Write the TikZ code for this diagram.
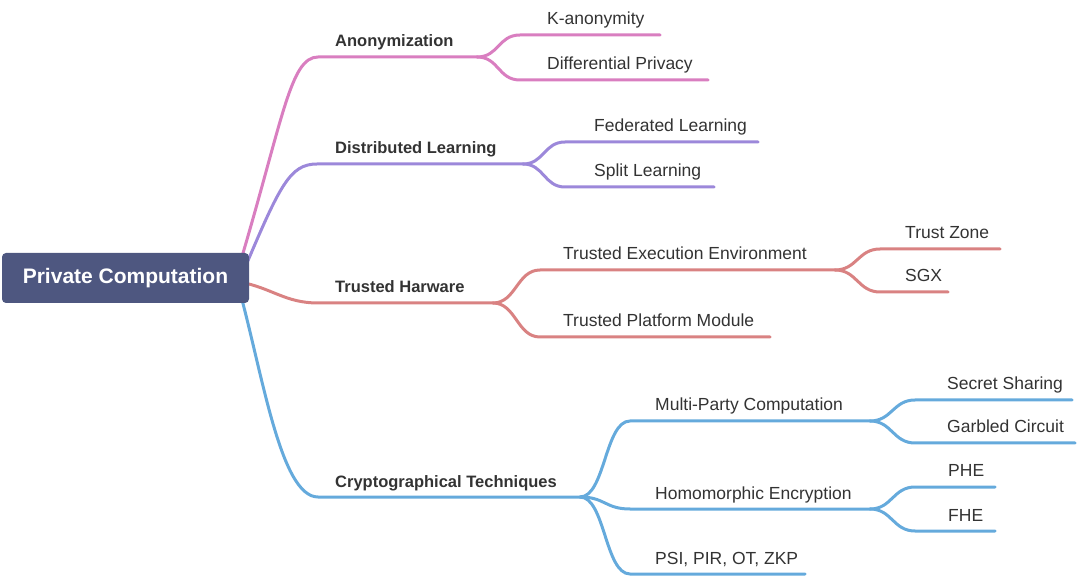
\documentclass[tikz,border=0pt]{standalone}
\usepackage{fontspec}
\setmainfont{Liberation Sans}
\definecolor{pinkc}{HTML}{D97EC0}
\definecolor{purpc}{HTML}{9C88DA}
\definecolor{redc}{HTML}{D98282}
\definecolor{bluec}{HTML}{65AADC}
\definecolor{rootc}{HTML}{4E5780}
\definecolor{txt}{HTML}{333333}
\begin{document}
\begin{tikzpicture}[x=1pt,y=-1pt,
  br/.style={line width=3pt, line cap=round},
  lone/.style={anchor=base west, inner sep=0pt, font=\fontsize{16.5}{18}\selectfont\bfseries, text=txt},
  ltwo/.style={anchor=base west, inner sep=0pt, font=\fontsize{17.5}{19}\selectfont, text=txt}]
\useasboundingbox (0,0) rectangle (1080,577);

% ---------- coordinates ----------
\coordinate (rP) at (238,270);
\coordinate (rU) at (244,270);
\coordinate (rR) at (240,282);
\coordinate (rB) at (238,285);
% level 1
\coordinate (anS) at (318,57);  \coordinate (anF) at (477,57);
\coordinate (dlS) at (317,164); \coordinate (dlF) at (523,164);
\coordinate (thS) at (318,303); \coordinate (thF) at (493,303);
\coordinate (ctS) at (318,497); \coordinate (ctF) at (580,497);
% level 2
\coordinate (kaS) at (520,35);  \coordinate (kaE) at (660,35);
\coordinate (dpS) at (520,80);  \coordinate (dpE) at (708,80);
\coordinate (flS) at (565,142); \coordinate (flE) at (758,142);
\coordinate (slS) at (565,187); \coordinate (slE) at (714,187);
\coordinate (teS) at (540,270); \coordinate (teF) at (835,270);
\coordinate (tpS) at (540,337); \coordinate (tpE) at (770,337);
\coordinate (mpS) at (630,421); \coordinate (mpF) at (870,421);
\coordinate (heS) at (630,509); \coordinate (heF) at (870,509);
\coordinate (psS) at (630,574); \coordinate (psE) at (805,574);
% level 3
\coordinate (tzS) at (880,249); \coordinate (tzE) at (1000,249);
\coordinate (sgS) at (880,292); \coordinate (sgE) at (948,292);
\coordinate (ssS) at (915,400); \coordinate (ssE) at (1072,400);
\coordinate (gcS) at (915,443); \coordinate (gcE) at (1075,443);
\coordinate (phS) at (915,487); \coordinate (phE) at (995,487);
\coordinate (fhS) at (915,531); \coordinate (fhE) at (995,531);

% ---------- Anonymization ----------
\begin{scope}[br, draw=pinkc]
\draw (rP) .. controls (283,120) and (290,57) .. (anS) -- (anF);
\draw (anF) .. controls +(22,0) and +(-22,0) .. (kaS) -- (kaE);
\draw (anF) .. controls +(22,0) and +(-22,0) .. (dpS) -- (dpE);
\end{scope}
% ---------- Distributed Learning ----------
\begin{scope}[br, draw=purpc]
\draw (rU) .. controls (280,185) and (290,164) .. (dlS) -- (dlF);
\draw (dlF) .. controls +(21,0) and +(-21,0) .. (flS) -- (flE);
\draw (dlF) .. controls +(21,0) and +(-21,0) .. (slS) -- (slE);
\end{scope}
% ---------- Trusted Harware ----------
\begin{scope}[br, draw=redc]
\draw (rR) .. controls (272,288) and (285,303) .. (thS) -- (thF);
\draw (thF) .. controls +(23,0) and +(-23,0) .. (teS) -- (teF);
\draw (thF) .. controls +(23,0) and +(-23,0) .. (tpS) -- (tpE);
\draw (teF) .. controls +(22,0) and +(-22,0) .. (tzS) -- (tzE);
\draw (teF) .. controls +(22,0) and +(-22,0) .. (sgS) -- (sgE);
\end{scope}
% ---------- Cryptographical Techniques ----------
\begin{scope}[br, draw=bluec]
\draw (rB) .. controls (262,370) and (280,497) .. (ctS) -- (ctF);
\draw (ctF) .. controls +(25,0) and +(-25,0) .. (mpS) -- (mpF);
\draw (ctF) .. controls +(25,0) and +(-25,0) .. (heS) -- (heF);
\draw (ctF) .. controls +(25,0) and +(-25,0) .. (psS) -- (psE);
\draw (mpF) .. controls +(22,0) and +(-22,0) .. (ssS) -- (ssE);
\draw (mpF) .. controls +(22,0) and +(-22,0) .. (gcS) -- (gcE);
\draw (heF) .. controls +(22,0) and +(-22,0) .. (phS) -- (phE);
\draw (heF) .. controls +(22,0) and +(-22,0) .. (fhS) -- (fhE);
\end{scope}

% ---------- root ----------
\node[fill=rootc, rounded corners=4pt, minimum width=247pt, minimum height=50pt,
      inner sep=0pt, text=white, font=\fontsize{21}{23}\selectfont\bfseries]
  (root) at (125.5,278) {Private Computation};

% ---------- labels ----------
\node[lone] (an) at (335,47)  {Anonymization};
\node[lone] (dl) at (335,154) {Distributed Learning};
\node[lone] (th) at (335,293) {Trusted Harware};
\node[lone] (ct) at (335,487) {Cryptographical Techniques};

\node[ltwo] (ka) at (547,25)  {K-anonymity};
\node[ltwo] (dp) at (547,70)  {Differential Privacy};
\node[ltwo] (fl) at (594,132) {Federated Learning};
\node[ltwo] (sl) at (594,177) {Split Learning};
\node[ltwo] (te) at (563,260) {Trusted Execution Environment};
\node[ltwo] (tp) at (563,327) {Trusted Platform Module};
\node[ltwo] (mp) at (655,411) {Multi-Party Computation};
\node[ltwo] (he) at (655,499) {Homomorphic Encryption};
\node[ltwo] (ps) at (655,564) {PSI, PIR, OT, ZKP};

\node[ltwo] (tz) at (905,239) {Trust Zone};
\node[ltwo] (sg) at (905,282) {SGX};
\node[ltwo] (ss) at (947,390) {Secret Sharing};
\node[ltwo] (gc) at (947,433) {Garbled Circuit};
\node[ltwo] (ph) at (948,477) {PHE};
\node[ltwo] (fh) at (948,521) {FHE};
\end{tikzpicture}
\end{document}
